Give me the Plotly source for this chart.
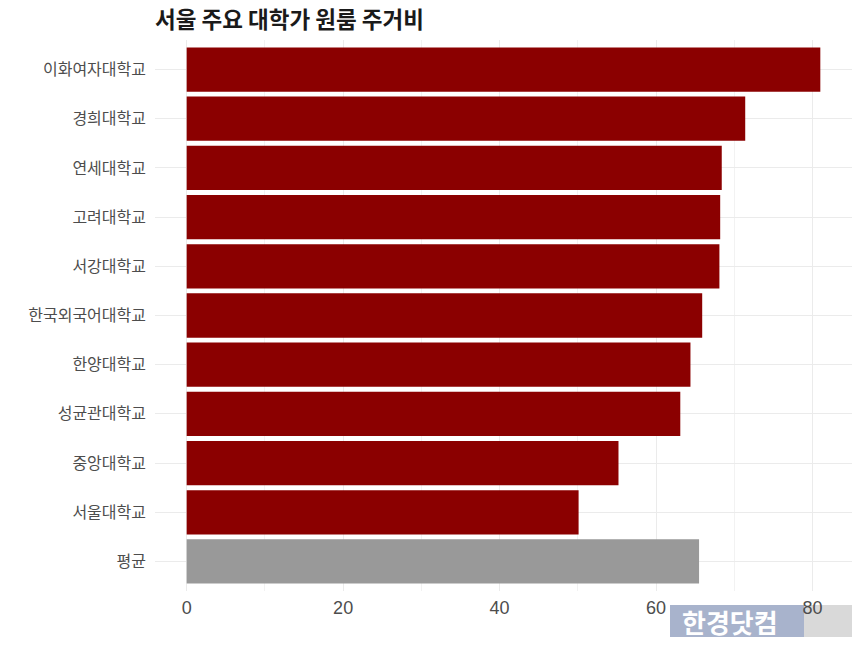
import plotly.graph_objects as go

universities = ["이화여자대학교", "경희대학교", "연세대학교", "고려대학교", "서강대학교",
                "한국외국어대학교", "한양대학교", "성균관대학교", "중앙대학교", "서울대학교", "평균"]
costs = [81.0, 71.4, 68.4, 68.2, 68.1, 65.9, 64.4, 63.1, 55.2, 50.1, 65.5]
bar_colors = ["#8b0000"] * 10 + ["#999999"]

title_text = "서울 주요 대학가 원룸 주거비"
x_ticks = [0, 20, 40, 60, 80]
watermark = "한경닷컴"

W, H = 860, 645
L, R, T, B = 155, 860 - 852, 40, 645 - 591
PW, PH = W - L - R, H - T - B


def px(xr):  # reference x pixel -> paper
    return (xr - L) / PW


def py(yr):  # reference y pixel -> paper
    return (H - B - yr) / PH


fig = go.Figure()
fig.add_trace(go.Bar(
    x=costs, y=universities, orientation="h",
    marker=dict(color=bar_colors, line=dict(width=0)),
    hoverinfo="x+y",
))

n = len(universities)
fig.update_layout(
    width=W, height=H,
    margin=dict(l=L, r=R, t=T, b=B),
    paper_bgcolor="white", plot_bgcolor="white",
    bargap=0.1,
    showlegend=False,
    title=dict(text="<b>" + title_text + "</b>", x=155 / W, xanchor="left",
               y=1 - 20.5 / H, yanchor="middle",
               font=dict(family="Noto Sans CJK KR", size=22.5, color="#1a1a1a")),
    xaxis=dict(range=[-4.05, 85.05], tickvals=x_ticks, ticktext=[str(v) for v in x_ticks],
               showgrid=True, gridcolor="#ebebeb", gridwidth=1,
               minor=dict(tickvals=[10, 30, 50, 70], showgrid=True, gridcolor="#f2f2f2", gridwidth=1),
               zeroline=False, showline=False, ticks="",
               ticklabelstandoff=4,
               tickfont=dict(family="Liberation Sans Narrow, Arial Narrow, Liberation Sans, sans-serif",
                             size=18, color="#4d4d4d")),
    yaxis=dict(range=[n - 1 + 0.6, -0.6], categoryorder="array", categoryarray=universities,
               showgrid=True, gridcolor="#ebebeb", gridwidth=1,
               zeroline=False, showline=False, ticks="",
               ticklabelstandoff=8,
               tickfont=dict(family="Noto Sans CJK KR", size=16, color="#4d4d4d")),
)

# watermark
fig.add_shape(type="rect", xref="paper", yref="paper",
              x0=px(670), x1=px(804), y0=py(637), y1=py(605),
              fillcolor="#a8b3cc", line=dict(width=0), layer="below")
fig.add_shape(type="rect", xref="paper", yref="paper",
              x0=px(804), x1=px(852), y0=py(637), y1=py(605),
              fillcolor="#d9d9d9", line=dict(width=0), layer="below")
fig.add_annotation(text="<b>" + watermark + "</b>", xref="paper", yref="paper",
                   x=px(730), y=py(621), xanchor="center", yanchor="middle",
                   showarrow=False, font=dict(family="Noto Sans CJK KR", size=26, color="white"))

fig.write_html("out.html", config={"displayModeBar": False},
               post_script="document.body.style.margin='0';")
